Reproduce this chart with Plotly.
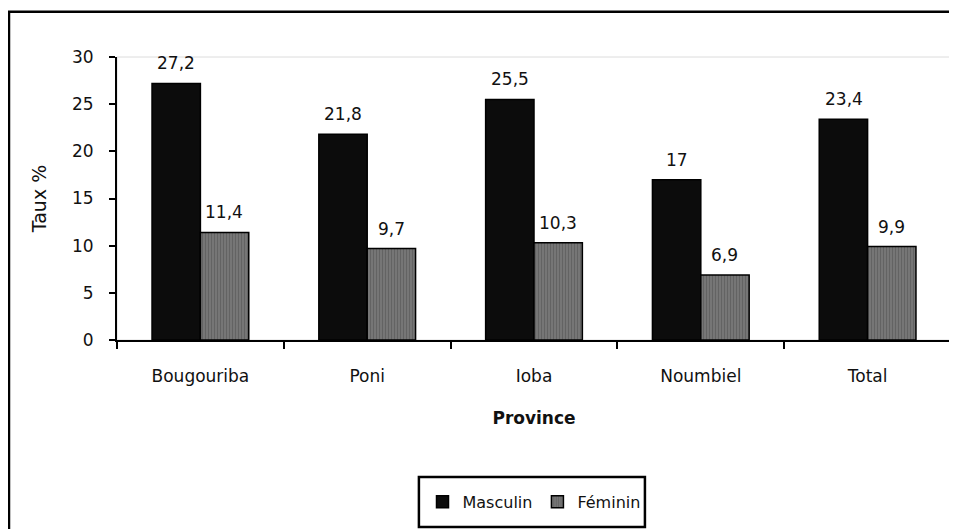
import plotly.graph_objects as go

provinces = ["Bougouriba", "Poni", "Ioba", "Noumbiel", "Total"]
masculin = [27.2, 21.8, 25.5, 17, 23.4]
feminin = [11.4, 9.7, 10.3, 6.9, 9.9]


def fr(v):
    return ("%g" % v).replace(".", ",")


font = "DejaVu Sans, Arial, sans-serif"

fig = go.Figure()
fig.add_trace(go.Bar(x=provinces, y=masculin, name="Masculin",
                     marker=dict(color="#0c0c0c", line=dict(color="#000", width=1.5))))
fig.add_trace(go.Bar(x=provinces, y=feminin, name="Féminin",
                     marker=dict(color="#707070", line=dict(color="#000", width=1.5),
                                 pattern=dict(shape="|", fgcolor="#4f4f4f", bgcolor="#767676",
                                              size=3, solidity=0.35))))

# value labels above bars
for p, m, f in zip(provinces, masculin, feminin):
    fig.add_annotation(x=p, y=m, text=fr(m), showarrow=False, yanchor="bottom",
                       xshift=-24, yshift=8, font=dict(size=17, color="#111", family=font))
    fig.add_annotation(x=p, y=f, text=fr(f), showarrow=False, yanchor="bottom",
                       xshift=24, yshift=8, font=dict(size=17, color="#111", family=font))

# light frame round the plot area, outer border and legend box
fig.add_shape(type="rect", xref="paper", yref="paper", x0=0, y0=0, x1=1, y1=1,
              line=dict(color="#dcdcdc", width=1), layer="below")
fig.add_shape(type="rect", xref="paper", yref="paper", x0=-0.1295, y0=-1.0, x1=1.2, y1=1.16,
              line=dict(color="#000", width=2.5), layer="below")
fig.add_shape(type="rect", xref="paper", yref="paper", x0=0.362, y0=-0.661, x1=0.633, y1=-0.484,
              line=dict(color="#000", width=2.5), fillcolor="white", layer="below")

fig.update_layout(
    width=957, height=529,
    margin=dict(l=109, r=14, t=49, b=197),
    barmode="group", bargap=0.42, bargroupgap=0,
    plot_bgcolor="white", paper_bgcolor="white",
    font=dict(family=font, size=17, color="#111"),
    showlegend=True,
    legend=dict(orientation="h", x=0.5, xanchor="center", y=-0.572, yanchor="middle",
                bgcolor="rgba(0,0,0,0)", borderwidth=0, font=dict(size=16),
                itemwidth=30, tracegroupgap=0),
    xaxis=dict(showline=True, linecolor="#000", linewidth=2, ticks="outside",
               tickson="boundaries", ticklen=7, tickwidth=2, tickcolor="#000",
               showgrid=False, ticklabelstandoff=20,
               title=dict(text="<b>Province</b>", font=dict(size=17), standoff=27)),
    yaxis=dict(range=[0, 30], dtick=5, showline=True, linecolor="#000", linewidth=2,
               ticks="outside", ticklen=6, tickwidth=2, tickcolor="#000",
               showgrid=False, zeroline=False, ticklabelstandoff=12,
               title=dict(text="Taux %", font=dict(size=19), standoff=20)),
)

fig.write_html("out.html")
